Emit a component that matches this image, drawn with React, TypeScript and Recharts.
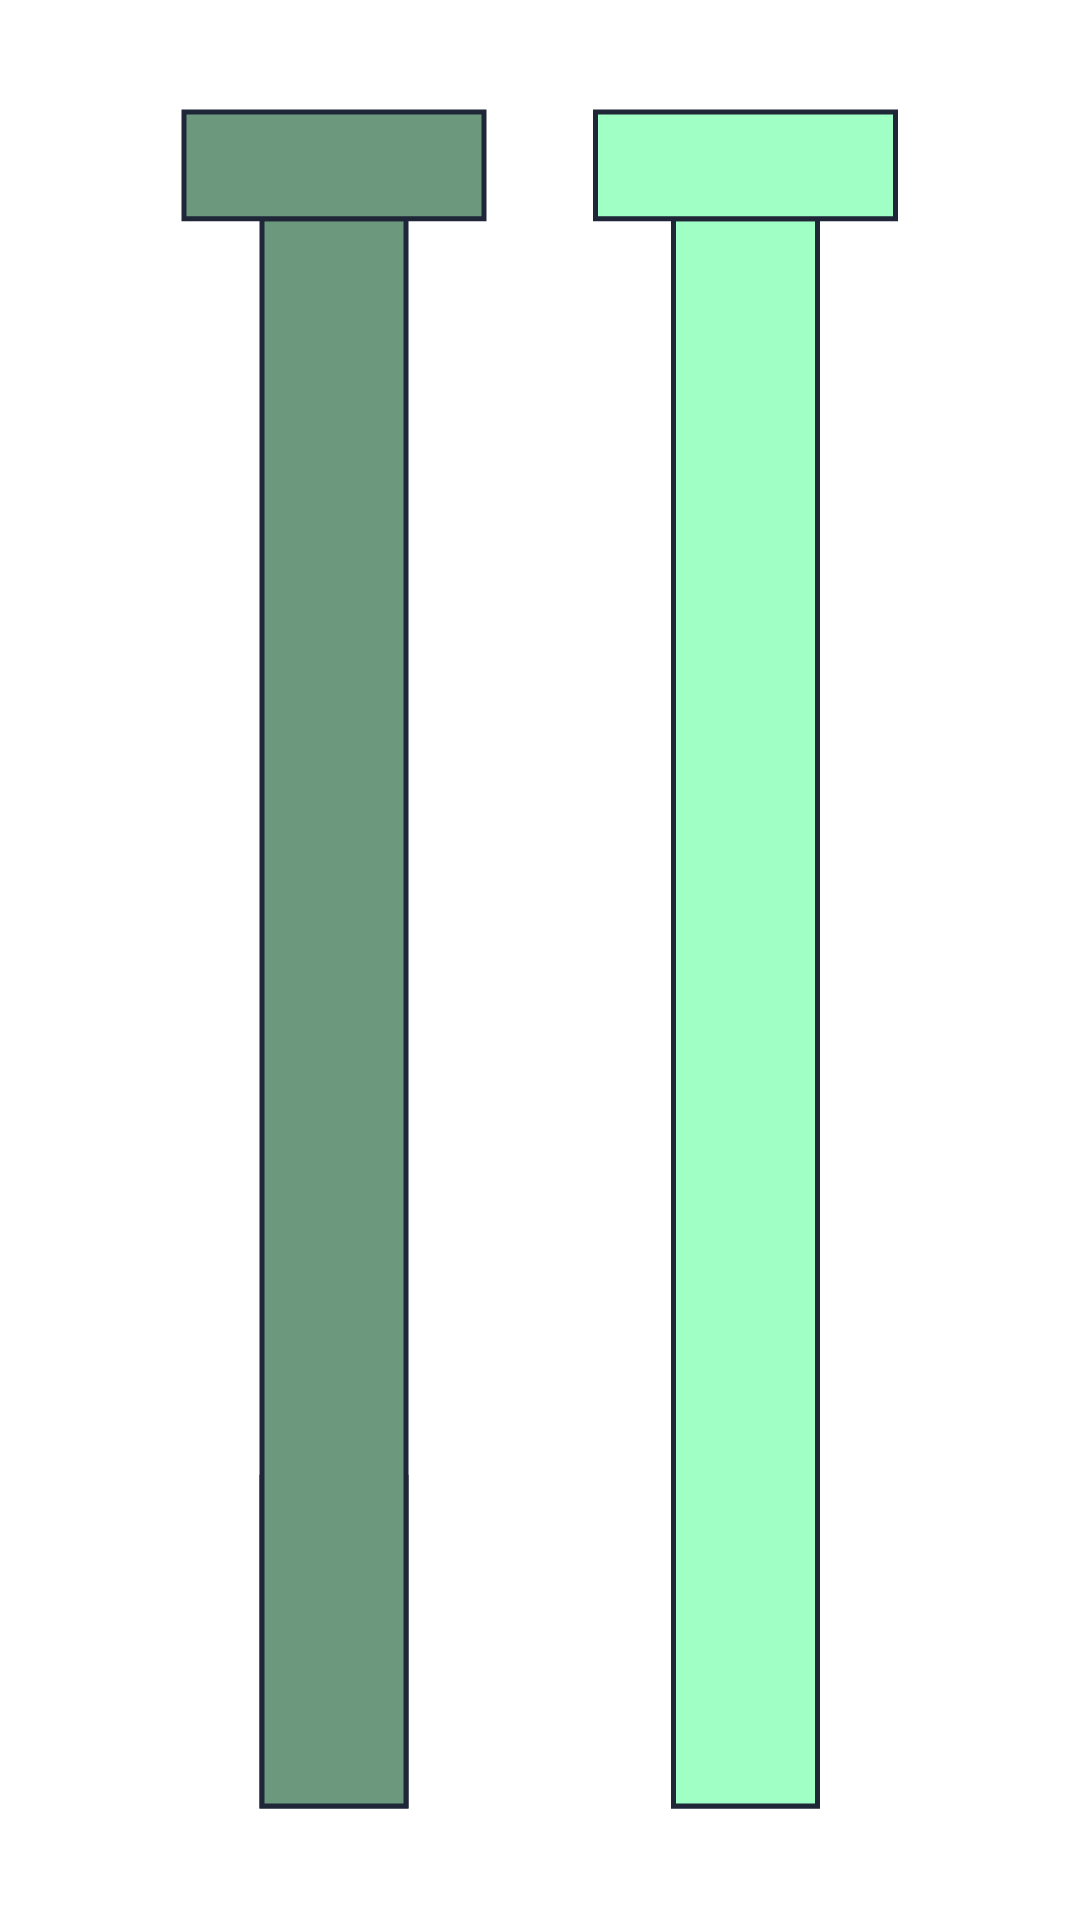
import { Bar, BarChart, Cell, XAxis, YAxis } from 'recharts';

const categories = ['A', 'B'];
const lowValues = [19.4, 19.4];
const highValues = [93.7, 93.7];
const capValues = [100, 100];
const fills = ['#6c997d', '#a0ffc5'];

const STROKE = '#1e2638';

const data = categories.map((name, i) => ({
  name,
  low: lowValues[i],
  high: highValues[i],
  cap: [highValues[i], capValues[i]],
}));

export default function App() {
  return (
    <BarChart
      width={1064}
      height={1900}
      data={data}
      margin={{ top: 104, right: 121, bottom: 102, left: 120 }}
    >
      <XAxis xAxisId="low" dataKey="name" hide />
      <XAxis xAxisId="high" dataKey="name" hide />
      <XAxis xAxisId="cap" dataKey="name" hide />
      <YAxis hide domain={[0, 100]} />
      <Bar
        xAxisId="low"
        dataKey="low"
        barSize={144}
        stroke={STROKE}
        strokeWidth={5}
        isAnimationActive={false}
      >
        {data.map((d, i) => (
          <Cell key={d.name} fill={fills[i]} />
        ))}
      </Bar>
      <Bar
        xAxisId="high"
        dataKey="high"
        barSize={144}
        stroke={STROKE}
        strokeWidth={5}
        isAnimationActive={false}
      >
        {data.map((d, i) => (
          <Cell key={d.name} fill={fills[i]} />
        ))}
      </Bar>
      <Bar
        xAxisId="cap"
        dataKey="cap"
        barSize={300}
        stroke={STROKE}
        strokeWidth={5}
        isAnimationActive={false}
      >
        {data.map((d, i) => (
          <Cell key={d.name} fill={fills[i]} />
        ))}
      </Bar>
    </BarChart>
  );
}
